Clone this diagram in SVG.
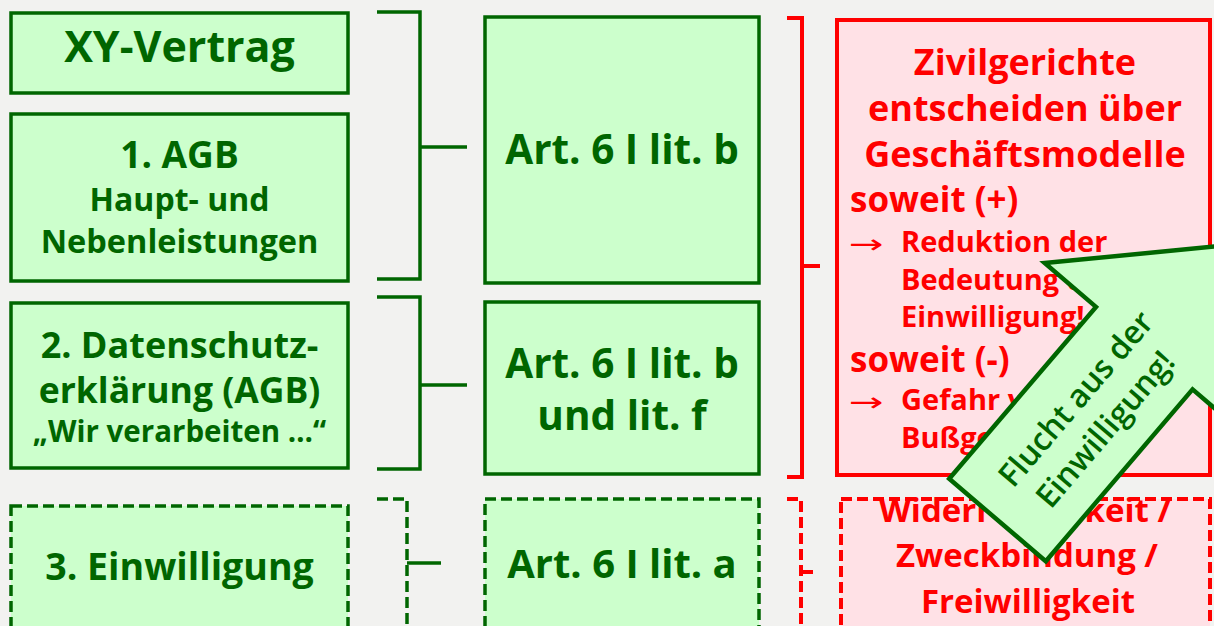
<svg xmlns="http://www.w3.org/2000/svg" width="1214" height="626" viewBox="0 0 1214 626">
  <style>
    .gbox { fill: #ccffcc; stroke: #006600; stroke-width: 3.5; }
    .rbox { fill: #ffe1e6; stroke: #ff0000; stroke-width: 4; }
    .dash { stroke-dasharray: 11 5; }
    .gline { fill: none; stroke: #006600; stroke-width: 3.5; }
    .rline { fill: none; stroke: #ff0000; stroke-width: 4; }
    text { font-family: "Open Sans", "Noto Sans", "DejaVu Sans", sans-serif; font-weight: 700; }
    .gt { fill: #006600; text-anchor: middle; }
    .rt { fill: #ff0000; }
    .rc { text-anchor: middle; }
    .sym { font-family: "DejaVu Sans", sans-serif; font-weight: 400; font-size: 26px; }
    .arrowtxt { font-weight: 600; fill: #006600; text-anchor: middle; font-size: 32px; }
  </style>

  <rect width="1214" height="626" fill="#f2f2f0"/>

  <!-- left column: sources -->
  <g id="xy-vertrag">
    <rect class="gbox" x="11" y="13" width="337" height="80"/>
    <text class="gt" x="179.5" y="62" font-size="43">XY-Vertrag</text>
  </g>
  <g id="agb">
    <rect class="gbox" x="11" y="114" width="337" height="167"/>
    <text class="gt" x="179.5" y="168" font-size="37">1. AGB</text>
    <text class="gt" x="179.5" y="211" font-size="32">Haupt- und</text>
    <text class="gt" x="179.5" y="253" font-size="32.5">Nebenleistungen</text>
  </g>
  <g id="datenschutz">
    <rect class="gbox" x="11" y="303" width="337" height="165"/>
    <text class="gt" x="179.5" y="358" font-size="36">2. Datenschutz-</text>
    <text class="gt" x="179.5" y="403" font-size="35.5">erklärung (AGB)</text>
    <text class="gt" x="179.5" y="442" font-size="29.5">„Wir verarbeiten …“</text>
  </g>
  <g id="einwilligung">
    <rect class="gbox dash" x="11" y="506" width="337" height="140"/>
    <text class="gt" x="179.5" y="580" font-size="37.5">3. Einwilligung</text>
  </g>

  <!-- middle column: legal bases -->
  <g id="lit-b">
    <rect class="gbox" x="485" y="17" width="274" height="266"/>
    <text class="gt" x="622" y="164" font-size="40.5">Art. 6 I lit. b</text>
  </g>
  <g id="lit-b-f">
    <rect class="gbox" x="485" y="302" width="274" height="172"/>
    <text class="gt" x="622" y="378" font-size="40.5">Art. 6 I lit. b</text>
    <text class="gt" x="622" y="430" font-size="40.5">und lit. f</text>
  </g>
  <g id="lit-a">
    <rect class="gbox dash" x="485" y="499" width="274" height="150"/>
    <text class="gt" x="622" y="578" font-size="40">Art. 6 I lit. a</text>
  </g>

  <!-- right column: consequences -->
  <g id="zivilgerichte">
    <rect class="rbox" x="837" y="20" width="373" height="455"/>
    <text class="rt rc" x="1025" y="75" font-size="36">Zivilgerichte</text>
    <text class="rt rc" x="1025" y="121" font-size="36">entscheiden über</text>
    <text class="rt rc" x="1025" y="167" font-size="36">Geschäftsmodelle</text>
    <text class="rt" x="850" y="212" font-size="35">soweit (+)</text>
    <text class="rt sym" transform="translate(849 253) scale(1.6 1)">→</text>
    <text class="rt" x="901" y="252" font-size="29">Reduktion der</text>
    <text class="rt" x="901" y="290" font-size="29">Bedeutung der</text>
    <text class="rt" x="901" y="327" font-size="29">Einwilligung!</text>
    <text class="rt" x="850" y="372" font-size="35">soweit (-)</text>
    <text class="rt sym" transform="translate(849 411) scale(1.6 1)">→</text>
    <text class="rt" x="901" y="410" font-size="29">Gefahr von</text>
    <text class="rt" x="901" y="448" font-size="29">Bußgeldern</text>
  </g>
  <g id="widerruf">
    <rect class="rbox dash" x="841" y="499" width="369" height="150"/>
    <text class="rt rc" x="1025" y="522" font-size="33">Widerruflichkeit /</text>
    <text class="rt rc" x="1027" y="567" font-size="33">Zweckbindung /</text>
    <text class="rt rc" x="1028" y="613" font-size="33">Freiwilligkeit</text>
  </g>

  <!-- connectors: brackets joining the columns -->
  <g id="connectors">
    <path class="gline" d="M377 12 H420 V279 H377 M420 147 H467"/>
    <path class="gline" d="M377 297 H420 V469 H377 M420 385 H467"/>
    <path class="gline dash" d="M377 499 H407 V640"/>
    <path class="gline" d="M407 563 H441"/>
    <path class="rline" d="M787 18 H802 V477 H787 M802 266 H820"/>
    <path class="rline dash" d="M787 499 H801 V640"/>
    <path class="rline" d="M801 572 H813"/>
  </g>

  <!-- block arrow overlay -->
  <g id="flucht" transform="translate(997.5 520) rotate(-49.5)">
    <polygon points="0,-63.5 226,-63.5 226,-131 362,0 226,131 226,63.5 0,63.5" fill="#ccffcc" stroke="#006600" stroke-width="4.5" stroke-linejoin="miter"/>
    <text class="arrowtxt" x="143" y="-8">Flucht aus der</text>
    <text class="arrowtxt" x="139" y="34">Einwilligung!</text>
  </g>
</svg>
